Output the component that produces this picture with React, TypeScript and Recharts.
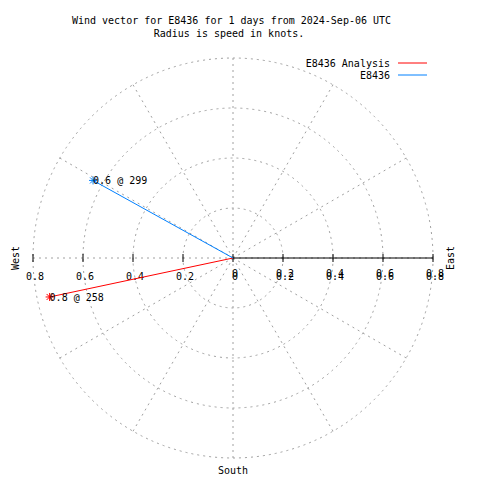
import React from 'react';
import {
  RadarChart,
  Radar,
  PolarGrid,
  PolarAngleAxis,
  PolarRadiusAxis,
  ComposedChart,
  Line,
  XAxis,
  YAxis,
  Legend,
} from 'recharts';

// ---- data ----
const SERIES_NAMES = ['E8436 Analysis', 'E8436'];
const SPEEDS = [0.75, 0.64]; // knots
const DIRECTIONS = [258, 299]; // degrees
const SERIES_COLORS = ['#ff0000', '#0080ff'];
const RADIUS_DOMAIN = [0, 0.8];
const RADIUS_TICKS = [0, 0.2, 0.4, 0.6, 0.8];
const GRID_ANGLES = [0, 30, 60, 90, 120, 150, 180, 210, 240, 270, 300, 330];
const TITLE_LINES = ['Wind vector for E8436 for 1 days from 2024-Sep-06 UTC', 'Radius is speed in knots.'];
const COMPASS_LABELS = { west: 'West', east: 'East', south: 'South' };

const FONT = 'DejaVu Sans Mono';
const W = 480;
const H = 480;
const CX = 225;
const CY = 250;
const R = 200;

const vectorData = SPEEDS.map((s, i) => {
  const rad = (DIRECTIONS[i] * Math.PI) / 180;
  return [
    { x: 0, y: 0, speed: 0, dir: 0 },
    { x: s * Math.sin(rad), y: s * Math.cos(rad), speed: s, dir: DIRECTIONS[i] },
  ];
});

const polarData = SPEEDS.map((s, i) => ({ name: SERIES_NAMES[i], speed: s, dir: DIRECTIONS[i] }));

const fmt = (v: number) => {
  const n = Number(Number(v).toFixed(1));
  return n === 0 ? '0' : String(n);
};

const RightTick = (props: any) => {
  const { x, y, payload } = props;
  const label = fmt(payload.value);
  return (
    <g>
      <line x1={x} x2={x} y1={y - 4} y2={y + 4} stroke="#000" strokeWidth={1} />
      <text x={x + 2} y={y + 19} textAnchor="middle" fontFamily={FONT} fontSize={10} fill="#000">{label}</text>
      <text x={x + 2} y={y + 22} textAnchor="middle" fontFamily={FONT} fontSize={10} fill="#000">{label}</text>
    </g>
  );
};

const LeftTick = (props: any) => {
  const { x, y, payload } = props;
  if (Number(payload.value) === 0) return <g />;
  const label = fmt(payload.value);
  return (
    <g>
      <line x1={x} x2={x} y1={y - 4} y2={y + 4} stroke="#000" strokeWidth={1} />
      <text x={x + 2} y={y + 22} textAnchor="middle" fontFamily={FONT} fontSize={10} fill="#000">{label}</text>
    </g>
  );
};

const makeDot = (color: string) => (props: any) => {
  const { cx, cy, index, payload } = props;
  if (index !== 1 || cx == null || cy == null) return <g key={`d${index}`} />;
  const s = 4;
  const d = 3;
  return (
    <g key={`d${index}`}>
      <line x1={cx - s} x2={cx + s} y1={cy} y2={cy} stroke={color} />
      <line x1={cx} x2={cx} y1={cy - s} y2={cy + s} stroke={color} />
      <line x1={cx - d} x2={cx + d} y1={cy - d} y2={cy + d} stroke={color} />
      <line x1={cx - d} x2={cx + d} y1={cy + d} y2={cy - d} stroke={color} />
      <text x={cx} y={cy + 4} fontFamily={FONT} fontSize={10} fill="#000">
        {`${payload.speed.toFixed(1)} @ ${payload.dir}`}
      </text>
    </g>
  );
};

const renderLegend = (props: any) => {
  const payload = props.payload || [];
  const ordered = SERIES_NAMES.map((n) => payload.find((p: any) => p.value === n)).filter(Boolean);
  return (
    <svg width={W} height={90} style={{ display: 'block' }}>
      {ordered.map((p: any, i: number) => (
        <g key={i}>
          <text x={382} y={59 + i * 12} textAnchor="end" fontFamily={FONT} fontSize={10} fill="#000">{p.value}</text>
          <line x1={390} x2={419} y1={55 + i * 12} y2={55 + i * 12} stroke={p.color} strokeWidth={1} />
        </g>
      ))}
    </svg>
  );
};

export default function App() {
  return (
    <div style={{ position: 'relative', width: W, height: H, background: '#fff' }}>
      <div style={{ position: 'absolute', left: 0, top: 0 }}>
        <RadarChart
          width={W}
          height={H}
          data={polarData}
          cx={CX}
          cy={CY}
          outerRadius={R}
          innerRadius={0}
          margin={{ top: 0, right: 0, bottom: 0, left: 0 }}
        >
          <PolarGrid
            gridType="circle"
            polarAngles={GRID_ANGLES}
            stroke="#a0a0a0"
            strokeDasharray="2 4"
          />
          <PolarAngleAxis dataKey="name" tick={false} tickLine={false} axisLine={false} />
          <PolarRadiusAxis
            angle={0}
            type="number"
            domain={RADIUS_DOMAIN}
            ticks={RADIUS_TICKS as any}
            tickCount={5}
            allowDecimals
            allowDataOverflow
            axisLine={{ stroke: '#000' }}
            stroke="#000"
            tick={RightTick}
          />
          <PolarRadiusAxis
            radiusAxisId="left"
            angle={180}
            type="number"
            domain={RADIUS_DOMAIN}
            ticks={RADIUS_TICKS as any}
            tickCount={5}
            allowDecimals
            allowDataOverflow
            axisLine={false}
            tick={LeftTick}
          />
          <Radar dataKey="speed" stroke="none" fill="none" fillOpacity={0} dot={false} isAnimationActive={false} />
          <Radar radiusAxisId="left" dataKey="speed" stroke="none" fill="none" fillOpacity={0} dot={false} isAnimationActive={false} />
        </RadarChart>
      </div>
      <div style={{ position: 'absolute', left: 0, top: 0 }}>
        <ComposedChart width={W} height={H} margin={{ top: 50, right: 55, bottom: 30, left: 25 }}>
          <XAxis type="number" dataKey="x" domain={[-0.8, 0.8]} allowDataOverflow hide />
          <YAxis type="number" dataKey="y" domain={[-0.8, 0.8]} allowDataOverflow hide />
          {vectorData.map((d, i) => (
            <Line
              key={SERIES_NAMES[i]}
              data={d}
              dataKey="y"
              name={SERIES_NAMES[i]}
              stroke={SERIES_COLORS[i]}
              strokeWidth={1}
              isAnimationActive={false}
              dot={makeDot(SERIES_COLORS[i])}
              activeDot={false}
              legendType="line"
            />
          ))}
          <Legend
            layout="horizontal"
            verticalAlign="middle"
            align="center"
            content={renderLegend}
            wrapperStyle={{ position: 'absolute', left: 0, top: 0, width: W, height: 90 }}
          />
          <text x={223.5} y={16} textAnchor="middle" fontFamily={FONT} fontSize={10} fill="#000">{TITLE_LINES[0]}</text>
          <text x={221} y={29} textAnchor="middle" fontFamily={FONT} fontSize={10} fill="#000">{TITLE_LINES[1]}</text>
          <text x={10.5} y={250} textAnchor="middle" fontFamily={FONT} fontSize={10} fill="#000" transform="rotate(-90 10.5 250)">{COMPASS_LABELS.west}</text>
          <text x={446} y={250} textAnchor="middle" fontFamily={FONT} fontSize={10} fill="#000" transform="rotate(-90 446 250)">{COMPASS_LABELS.east}</text>
          <text x={225} y={466} textAnchor="middle" fontFamily={FONT} fontSize={10} fill="#000">{COMPASS_LABELS.south}</text>
        </ComposedChart>
      </div>
    </div>
  );
}
